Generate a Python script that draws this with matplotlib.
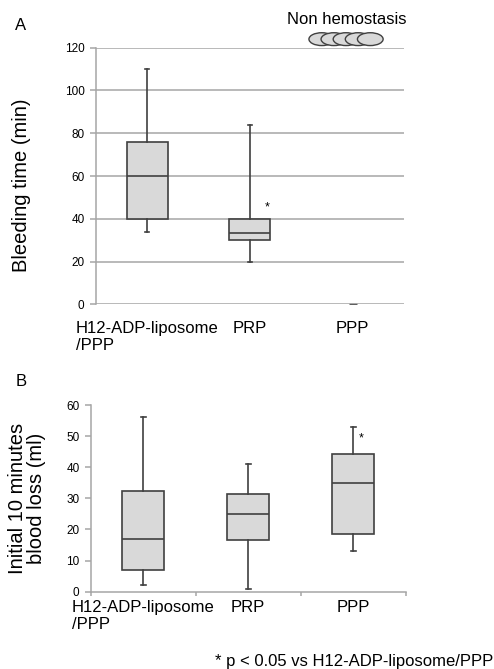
import matplotlib.pyplot as plt
from matplotlib.patches import Ellipse

plt.rcParams['font.family'] = ['Liberation Sans', 'DejaVu Sans']

groups = ['H12-ADP-liposome\n/PPP', 'PRP', 'PPP']

# A: bleeding time (min) -- PPP never stopped bleeding
bt_whislo = [34, 20]
bt_q1 = [40, 30]
bt_med = [60, 33.5]
bt_q3 = [76, 40]
bt_whishi = [110, 84]
n_non_hemostasis = 5
nonhemo_y = 124

# B: initial 10 minutes blood loss (ml)
bl_whislo = [2.3, 0.8, 13.1]
bl_q1 = [6.9, 16.6, 18.4]
bl_med = [17, 25, 34.8]
bl_q3 = [32.5, 31.3, 44.2]
bl_whishi = [56, 41, 53]

sig_a = (2.17, 45.5)
sig_b = (3.08, 49.3)

grid_c = '#a6a6a6'
edge_c = '#404040'
face_c = '#d9d9d9'


def make_stats(lo, q1, med, q3, hi):
    return [dict(whislo=a, q1=b, med=c, q3=d, whishi=e, fliers=[])
            for a, b, c, d, e in zip(lo, q1, med, q3, hi)]


def draw_boxes(ax, stats):
    ax.bxp(stats, positions=range(1, len(stats) + 1), widths=0.4,
           capwidths=0.045, patch_artist=True, showfliers=False,
           boxprops=dict(facecolor=face_c, edgecolor=edge_c, linewidth=1.2),
           medianprops=dict(color=edge_c, linewidth=1.2),
           whiskerprops=dict(color=edge_c, linewidth=1.2),
           capprops=dict(color=edge_c, linewidth=1.2), zorder=3)


fig = plt.figure(figsize=(4.94, 6.69), dpi=100)

# ---- panel A
ax1 = fig.add_axes([0.1937, 0.5451, 0.6241, 0.3836])
draw_boxes(ax1, make_stats(bt_whislo, bt_q1, bt_med, bt_q3, bt_whishi))
ax1.plot([3], [0], marker='_', markersize=6, color='#606060', zorder=3)
ax1.set_xlim(0.5, 3.5)
ax1.set_ylim(0, 120)
ax1.set_yticks(range(0, 121, 20))
ax1.yaxis.grid(True, color=grid_c, linewidth=1.1)
ax1.set_axisbelow(True)
for s in ['top', 'right', 'bottom']:
    ax1.spines[s].set_visible(False)
ax1.spines['left'].set_color(grid_c)
ax1.spines['left'].set_linewidth(1.1)
ax1.tick_params(axis='y', colors=grid_c, labelcolor='black', labelsize=8.5,
                length=4, width=1.1, pad=4)
ax1.set_xticks([1, 2, 3])
ax1.set_xticklabels(groups, fontsize=12, multialignment='left')
ax1.tick_params(axis='x', length=0, pad=12)
ax1.text(*sig_a, '*', ha='center', va='center', fontsize=9)

# non hemostasis markers above the axis, overlapping
for i in range(n_non_hemostasis):
    ax1.add_patch(Ellipse((2.70 + 0.118 * i, nonhemo_y), 0.25, 6.0,
                          facecolor=face_c, edgecolor=edge_c, linewidth=1.0,
                          clip_on=False, zorder=4 + i))
fig.text(346.7 / 494, 1 - 19.5 / 669, 'Non hemostasis', ha='center',
         va='center', fontsize=12)
fig.text(22 / 494, 1 - 185 / 669, 'Bleeding time (min)', rotation=90,
         ha='center', va='center', fontsize=14.5)
fig.text(21 / 494, 1 - 25 / 669, 'A', ha='center', va='center', fontsize=12)

# ---- panel B
ax2 = fig.add_axes([0.1836, 0.1155, 0.6377, 0.2791])
draw_boxes(ax2, make_stats(bl_whislo, bl_q1, bl_med, bl_q3, bl_whishi))
ax2.set_xlim(0.5, 3.5)
ax2.set_ylim(0, 60)
ax2.set_yticks(range(0, 61, 10))
for s in ['top', 'right']:
    ax2.spines[s].set_visible(False)
for s in ['left', 'bottom']:
    ax2.spines[s].set_color(grid_c)
    ax2.spines[s].set_linewidth(1.1)
ax2.tick_params(axis='y', colors=grid_c, labelcolor='black', labelsize=8.5,
                length=4, width=1.1, pad=4)
ax2.set_xticks([1, 2, 3])
ax2.set_xticklabels(groups, fontsize=12, multialignment='left')
ax2.set_xticks([0.5, 1.5, 2.5, 3.5], minor=True)
ax2.tick_params(axis='x', which='major', length=0, pad=6)
ax2.tick_params(axis='x', which='minor', length=3, width=1.1, color=grid_c)
ax2.text(*sig_b, '*', ha='center', va='center', fontsize=9)
fig.text(27 / 494, 1 - 498.5 / 669, 'Initial 10 minutes\nblood loss (ml)',
         rotation=90, ha='center', va='center', fontsize=14.5,
         multialignment='center', linespacing=1.0)
fig.text(21 / 494, 1 - 381.7 / 669, 'B', ha='center', va='center', fontsize=12)

fig.text(493 / 494, 1 - 661.7 / 669, '* p < 0.05 vs H12-ADP-liposome/PPP',
         ha='right', va='center', fontsize=12)

fig.savefig('out.png', dpi=100)
